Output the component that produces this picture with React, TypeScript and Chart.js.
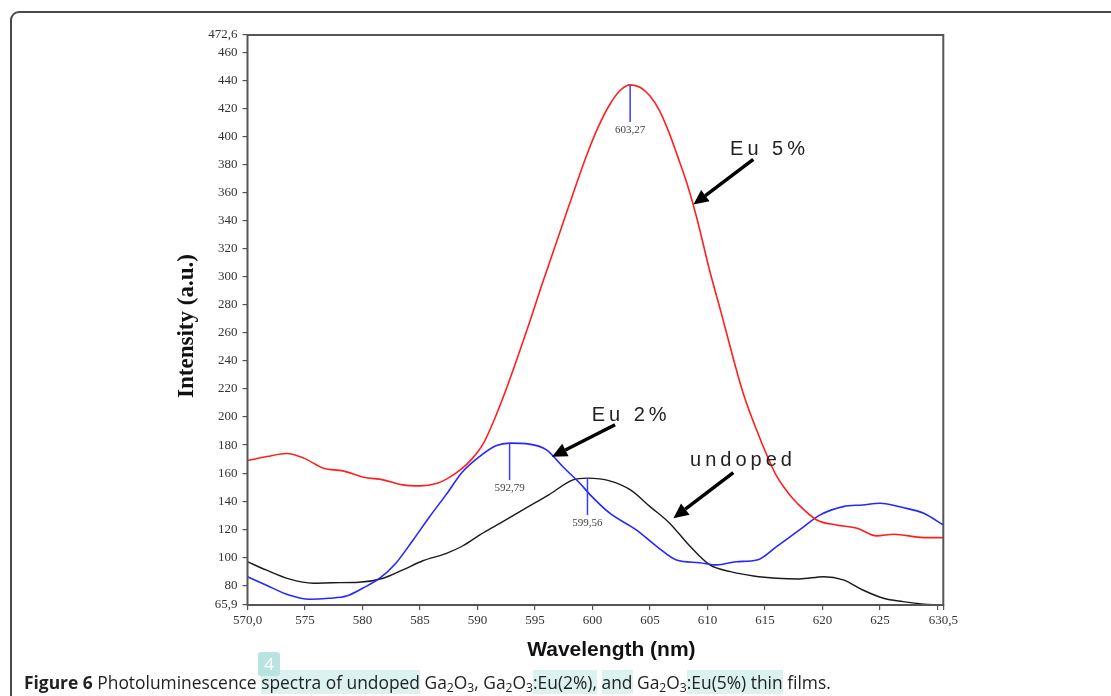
import React, { useEffect, useRef } from 'react';
import { Chart, registerables } from 'chart.js';

Chart.register(...registerables);

// ---------- data ----------
const eu5Wavelength = [570.0, 571.7, 573.4, 574.9, 576.6, 578.3, 580.1, 581.8, 583.5, 585.0, 586.5, 587.3, 588.5, 589.5, 590.5, 591.5, 592.5, 593.5, 594.5, 595.5, 596.5, 597.5, 598.5, 599.5, 600.5, 601.5, 602.4, 603.27, 604.2, 605.0, 605.8, 606.6, 607.4, 608.2, 609.1, 610.2, 611.2, 612.2, 613.1, 614.3, 615.2, 616.0, 617.0, 617.8, 619.5, 621.2, 623.0, 624.7, 626.2, 628.8, 630.5];
const eu5Intensity = [169, 171.8, 174, 170.7, 163.5, 161.6, 157.1, 155.2, 151.6, 150.9, 152.8, 155.7, 162.3, 170, 181, 199, 220, 243, 267, 292, 316, 340, 364, 387, 407, 423, 433, 437, 435, 429, 419, 404, 386, 367, 341, 304, 274, 243, 217, 190, 172, 158, 146, 138.5, 126.6, 123.0, 120.7, 115.2, 116.4, 114.0, 114.0];

const eu2Wavelength = [570.0, 571.6, 573.6, 575.4, 577.1, 578.6, 580.0, 581.5, 582.9, 584.4, 585.8, 587.3, 588.7, 590.2, 591.6, 592.79, 594.5, 596.0, 597.4, 598.9, 599.8, 601.5, 603.8, 605.6, 607.3, 609.3, 610.8, 612.5, 614.3, 616.0, 618.0, 619.8, 621.8, 623.5, 625.0, 627.0, 628.8, 630.5];
const eu2Intensity = [86.1, 80.2, 73.0, 70.0, 70.7, 72.3, 77.8, 85.0, 95.7, 112.3, 128.5, 145.0, 161.0, 172.0, 179.5, 181.4, 180.7, 176.6, 164.7, 152.8, 144.5, 131.4, 119.5, 107.6, 98.0, 96.1, 94.5, 96.8, 98.0, 107.6, 119.5, 130.2, 136.1, 137.3, 138.5, 135.4, 131.4, 123.0];

const undopedWavelength = [570.0, 571.6, 573.6, 575.7, 577.4, 579.7, 581.8, 583.5, 585.2, 587.3, 588.7, 590.2, 592.2, 594.2, 596.2, 598.3, 599.56, 601.5, 603.3, 605.0, 606.7, 608.5, 610.2, 612.0, 614.0, 616.0, 618.0, 620.1, 621.8, 623.5, 625.3, 627.0, 628.8, 630.0];
const undopedIntensity = [96.8, 90.9, 84.5, 81.4, 81.8, 82.1, 85.0, 90.9, 97.3, 102.8, 108.0, 115.9, 125.4, 135.0, 144.5, 155.2, 156.4, 154.5, 148.0, 136.1, 124.3, 107.6, 94.5, 89.7, 86.6, 85.0, 84.5, 86.1, 83.8, 76.6, 70.7, 68.3, 66.5, 66.0];

const xTicks = [570, 575, 580, 585, 590, 595, 600, 605, 610, 615, 620, 625, 630, 630.5];
const xTickLabels = ['570,0', '575', '580', '585', '590', '595', '600', '605', '610', '615', '620', '625', '', '630,5'];
const yTicks = [65.9, 80, 100, 120, 140, 160, 180, 200, 220, 240, 260, 280, 300, 320, 340, 360, 380, 400, 420, 440, 460, 472.6];
const yTickLabels = ['65,9', '80', '100', '120', '140', '160', '180', '200', '220', '240', '260', '280', '300', '320', '340', '360', '380', '400', '420', '440', '460', '472,6'];

const xAxisTitle = 'Wavelength (nm)';
const yAxisTitle = 'Intensity (a.u.)';

const peakWavelengths = [603.27, 592.79, 599.56];
const peakIntensities = [437, 181.4, 156.4];
const peakLabels = ['603,27', '592,79', '599,56'];

const seriesNames = ['Eu 5%', 'Eu 2%', 'undoped'];
const nameX = [611.96, 599.93, 608.48];
const nameY = [387.3, 197.5, 165.2];
const arrowTailX = [613.98, 601.96, 612.24];
const arrowTailY = [383.8, 194.5, 160.4];
const arrowHeadX = [608.77, 596.48, 607.03];
const arrowHeadY = [351.6, 171.6, 127.8];

const toPoints = (xs: number[], ys: number[]) => xs.map((x, i) => ({ x, y: ys[i] }));

const overlayPlugin = {
  id: 'overlay',
  afterDatasetsDraw(chart: any) {
    const { ctx, chartArea: a, scales } = chart;
    const x = scales.x;
    const y = scales.y;
    ctx.save();
    // frame
    ctx.strokeStyle = '#555';
    ctx.lineWidth = 2;
    ctx.strokeRect(a.left, a.top, a.right - a.left, a.bottom - a.top);

    // axis titles
    ctx.fillStyle = '#111';
    ctx.textAlign = 'center';
    ctx.textBaseline = 'middle';
    ctx.font = 'bold 21px "Liberation Sans", Arial, sans-serif';
    ctx.fillText(xAxisTitle, (a.left + a.right) / 2 + 16, a.bottom + 45);
    ctx.save();
    ctx.translate(a.left - 60, (a.top + a.bottom) / 2 + 6);
    ctx.rotate(-Math.PI / 2);
    ctx.font = 'bold 23px "Liberation Serif", "Times New Roman", serif';
    ctx.fillText(yAxisTitle, 0, 0);
    ctx.restore();

    // peak markers
    peakWavelengths.forEach((w, i) => {
      const px = x.getPixelForValue(w);
      const py = y.getPixelForValue(peakIntensities[i]);
      ctx.strokeStyle = '#3b3bff';
      ctx.lineWidth = 1.5;
      ctx.beginPath();
      ctx.moveTo(px, py);
      ctx.lineTo(px, py + 37);
      ctx.stroke();
      ctx.fillStyle = '#444';
      ctx.font = '11px "Liberation Serif", "Times New Roman", serif';
      ctx.textAlign = 'center';
      ctx.textBaseline = 'middle';
      ctx.fillText(peakLabels[i], px, py + 45);
    });

    // series names and arrows
    seriesNames.forEach((name, i) => {
      ctx.fillStyle = '#222';
      ctx.font = '20px "Liberation Sans", Arial, sans-serif';
      (ctx as any).letterSpacing = '4px';
      ctx.textAlign = 'left';
      ctx.textBaseline = 'alphabetic';
      ctx.fillText(name, x.getPixelForValue(nameX[i]), y.getPixelForValue(nameY[i]));
      (ctx as any).letterSpacing = '0px';

      const tx = x.getPixelForValue(arrowTailX[i]);
      const ty = y.getPixelForValue(arrowTailY[i]);
      const hx = x.getPixelForValue(arrowHeadX[i]);
      const hy = y.getPixelForValue(arrowHeadY[i]);
      const ang = Math.atan2(hy - ty, hx - tx);
      const headLen = 15;
      const headW = 7;
      const bx = hx - headLen * Math.cos(ang);
      const by = hy - headLen * Math.sin(ang);
      ctx.strokeStyle = '#000';
      ctx.lineWidth = 3.5;
      ctx.lineCap = 'butt';
      ctx.beginPath();
      ctx.moveTo(tx, ty);
      ctx.lineTo(bx, by);
      ctx.stroke();
      ctx.fillStyle = '#000';
      ctx.beginPath();
      ctx.moveTo(hx, hy);
      ctx.lineTo(bx + headW * Math.sin(ang), by - headW * Math.cos(ang));
      ctx.lineTo(bx - headW * Math.sin(ang), by + headW * Math.cos(ang));
      ctx.closePath();
      ctx.fill();
    });
    ctx.restore();
  },
};

const tickFont = { family: '"Liberation Serif", "Times New Roman", serif', size: 13 };

export default function App() {
  const canvasRef = useRef<HTMLCanvasElement>(null);

  useEffect(() => {
    if (!canvasRef.current) return;
    const lineBase = { pointRadius: 0, cubicInterpolationMode: 'monotone', fill: false };
    const chart = new Chart(canvasRef.current, {
      type: 'line',
      data: {
        datasets: [
          { ...lineBase, label: seriesNames[0], data: toPoints(eu5Wavelength, eu5Intensity), borderColor: '#ff1f1f', borderWidth: 1.6 },
          { ...lineBase, label: seriesNames[1], data: toPoints(eu2Wavelength, eu2Intensity), borderColor: '#2626ff', borderWidth: 1.6 },
          { ...lineBase, label: seriesNames[2], data: toPoints(undopedWavelength, undopedIntensity), borderColor: '#1a1a1a', borderWidth: 1.4 },
        ],
      },
      options: {
        animation: false,
        responsive: false,
        events: [],
        layout: { padding: { top: 35, right: 167.7, left: 0, bottom: 0 } },
        plugins: { legend: { display: false }, tooltip: { enabled: false } },
        scales: {
          x: {
            type: 'linear',
            min: 570,
            max: 630.5,
            afterBuildTicks: (s: any) => { s.ticks = xTicks.map((v) => ({ value: v })); },
            afterFit: (s: any) => { s.height = 91; },
            ticks: {
              autoSkip: false,
              maxRotation: 0,
              callback: (_v: any, i: number) => xTickLabels[i],
              font: tickFont,
              color: '#333',
              padding: 3,
            },
            grid: { drawOnChartArea: false, drawTicks: true, tickLength: 5, color: '#555', lineWidth: 1.2 },
            border: { display: false },
            title: { display: false },
          },
          y: {
            type: 'linear',
            min: 65.9,
            max: 472.6,
            afterBuildTicks: (s: any) => { s.ticks = yTicks.map((v) => ({ value: v })); },
            afterFit: (s: any) => { s.width = 247.5; },
            ticks: {
              autoSkip: false,
              callback: (_v: any, i: number) => yTickLabels[i],
              font: tickFont,
              color: '#333',
              padding: 5,
            },
            grid: { drawOnChartArea: false, drawTicks: true, tickLength: 5, color: '#555', lineWidth: 1.2 },
            border: { display: false },
            title: { display: false },
          },
        },
      },
      plugins: [overlayPlugin],
    } as any);
    return () => chart.destroy();
  }, []);

  const hl: React.CSSProperties = { background: '#dcf2f1' };
  const sub: React.CSSProperties = { fontSize: '0.7em', verticalAlign: '-0.25em', lineHeight: 0 };

  return (
    <div style={{ position: 'absolute', left: 0, top: 0, width: 1111, height: 696, overflow: 'hidden', background: '#fff' }}>
      <div
        style={{
          position: 'absolute',
          left: 10,
          top: 11,
          width: 1140,
          height: 720,
          border: '2px solid #4a4a4a',
          borderTopLeftRadius: 9,
          boxSizing: 'border-box',
        }}
      />
      <canvas ref={canvasRef} width={1111} height={696} style={{ position: 'absolute', left: 0, top: 0 }} />
      <div
        style={{
          position: 'absolute',
          left: 24,
          top: 672,
          whiteSpace: 'nowrap',
          font: '17.4px "Open Sans", "Noto Sans", sans-serif',
          color: '#222',
          lineHeight: '21px',
        }}
      >
        <b>Figure 6</b> Photoluminescence <span style={hl}>spectra of undoped</span> Ga<span style={sub}>2</span>O<span style={sub}>3</span>, Ga<span style={sub}>2</span>O<span style={sub}>3</span><span style={hl}>:Eu(2%),</span> <span style={hl}>and</span> Ga<span style={sub}>2</span>O<span style={sub}>3</span><span style={hl}>:Eu(5%) thin</span> films.
      </div>
      <div
        style={{
          position: 'absolute',
          left: 258,
          top: 652,
          width: 22,
          height: 24,
          background: '#b8e3e0',
          borderRadius: 3,
          color: '#fff',
          font: '17px "Open Sans", sans-serif',
          textAlign: 'center',
          lineHeight: '24px',
        }}
      >
        4
      </div>
    </div>
  );
}
